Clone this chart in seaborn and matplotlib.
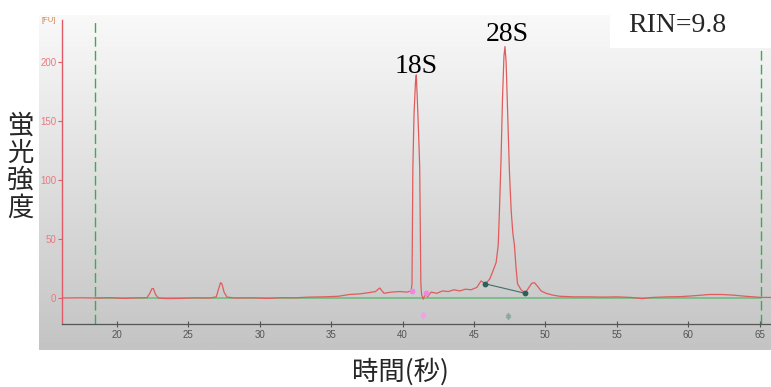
import numpy as np
import pandas as pd
import seaborn as sns
import matplotlib.pyplot as plt
from matplotlib.colors import LinearSegmentedColormap
from matplotlib.patches import Rectangle

# electropherogram trace (time in s, fluorescence in FU)
time_s = [16.2, 17.5, 18.5, 19.5, 20.5, 21.5, 22.1, 22.3, 22.45, 22.55,
          22.7, 22.9, 23.5, 24.5, 25.5, 26.5, 26.95, 27.1, 27.25, 27.35,
          27.5, 27.7, 28.3, 29.5, 30.5, 31.5, 32.5, 33.5, 34.5, 35.5,
          36.3, 37.0, 37.6, 38.1, 38.4, 38.7, 39.2, 39.8, 40.3, 40.6,
          40.66, 40.69, 40.72, 40.8, 40.9, 40.96, 41.02, 41.12, 41.2, 41.24,
          41.28, 41.33, 41.45, 41.6, 41.75, 42.0, 42.4, 42.8, 43.2, 43.6,
          44.0, 44.4, 44.8, 45.2, 45.5, 45.8, 46.1, 46.3, 46.55, 46.7,
          46.8, 46.9, 47.0, 47.1, 47.17, 47.25, 47.35, 47.48, 47.6, 47.72,
          47.83, 47.95, 48.05, 48.3, 48.58, 48.85, 49.05, 49.23, 49.45, 49.7,
          50.05, 50.5, 51.0, 52.0, 53.0, 54.0, 55.0, 56.0, 56.8, 57.5,
          58.5, 59.5, 60.5, 61.5, 62.3, 63.1, 64.0, 64.6, 65.1, 65.8]
fu = [0, 0.2, 0, 0.3, -0.3, 0.2, 0.3, 4, 8, 8,
      3, 0, -0.5, -0.3, 0.2, 0, 1, 7, 13, 12,
      5, 0.8, 0, 0.2, -0.3, 0.3, 0.2, 0.8, 1, 1.5,
      3, 3.5, 4.5, 5.5, 8.5, 4, 5, 5.5, 5, 6,
      12, 60, 110, 155, 182, 189, 172, 140, 110, 60,
      12, 3, -1, 4, 1, 5, 4, 6, 5.5, 7,
      6, 7.5, 7, 9, 14.5, 12, 16, 22, 30, 45,
      80, 120, 170, 205, 213, 200, 160, 108, 75, 55,
      45, 25, 12, 7, 4, 9, 12.5, 13, 10, 6,
      4, 2.5, 1.5, 1, 1, 0.8, 1, 0.5, -0.5, 0.5,
      1, 1.2, 2, 3, 3, 2.5, 1.5, 1, 0.5, 0.5]

window = [18.46, 65.1]          # green dashed markers
base_pts_t = [45.8, 48.58]      # 28S baseline anchors
base_pts_fu = [12, 4]
pink_t = [40.63, 41.66]
pink_fu = [6, 4.5]
peak_names = ["18S", "28S"]
peak_t = [40.96, 47.34]
peak_fu = [191, 218]
y_ticks = [0, 50, 100, 150, 200]
x_ticks = [20, 25, 30, 35, 40, 45, 50, 55, 60, 65]

trace = pd.DataFrame({"time": time_s, "fu": fu})

sns.set_style("white")
plt.rcParams["font.family"] = ["Liberation Sans", "DejaVu Sans"]
cjk = ["Noto Sans CJK JP", "DejaVu Sans"]

W, H = 771, 387
fig = plt.figure(figsize=(W / 100, H / 100), dpi=100)

# grey gradient panel
bg = fig.add_axes([39 / W, (H - 350) / H, (W - 39) / W, (350 - 15) / H], zorder=0)
cmap = LinearSegmentedColormap.from_list("panel", ["#f9f9f9", "#c4c4c4"])
bg.imshow(np.linspace(0, 1, 256).reshape(-1, 1), cmap=cmap, aspect="auto")
bg.axis("off")

ax = fig.add_axes([62 / W, (H - 324) / H, (W - 62) / W, (324 - 20) / H], zorder=1)
ax.set_facecolor("none")

for xv in window:
    ax.axvline(xv, color="#3aab52", lw=1.0, ls=(0, (7, 3)), zorder=2)
ax.plot(window, [0, 0], color="#78bd88", lw=1.3, zorder=2)

sns.lineplot(data=trace, x="time", y="fu", ax=ax, color="#e05c5c", lw=0.9,
             sort=False, estimator=None, zorder=3)

ax.plot(base_pts_t, base_pts_fu, color="#3f6f6a", lw=0.8, zorder=4)
ax.scatter(base_pts_t, base_pts_fu, s=10, color="#2f5f58", zorder=5)
ax.scatter(pink_t, pink_fu, s=10, color="#ee88dd", zorder=5)
ax.scatter([41.4], [-14.5], s=18, marker="$\u2021$", color="#f0a0e8", zorder=5)
ax.scatter([47.4], [-15], s=18, marker="$\u2021$", color="#88aaa0", zorder=5)

for name, t, v in zip(peak_names, peak_t, peak_fu):
    ax.text(t, v, name, ha="center", va="baseline", fontsize=20,
            family="Liberation Serif", color="black")

ax.set_xlim(16.15, 65.8)
ax.set_ylim(-22, 235.5)
ax.set_xticks(x_ticks)
ax.set_yticks(y_ticks)
ax.set_xlabel("")
ax.set_ylabel("")
for s in ["top", "right"]:
    ax.spines[s].set_visible(False)
ax.spines["left"].set_color("#e05a68")
ax.spines["left"].set_linewidth(1.0)
ax.spines["bottom"].set_color("#555555")
ax.spines["bottom"].set_linewidth(0.9)
ax.tick_params(axis="y", colors="#e05a68", labelcolor="#ea7a80", labelsize=7,
               length=3, width=0.8, pad=1, left=True)
ax.tick_params(axis="x", colors="#555555", labelcolor="#555555", labelsize=7,
               direction="inout", length=4, width=0.8, pad=2, bottom=True)

fig.text(49 / W, 1 - 20 / H, "[FU]", fontsize=5.5, color="#d08a50",
         ha="center", va="center", zorder=4)

# RIN box
fig.patches.append(Rectangle((610 / W, 1 - 48 / H), (W - 610) / W, 48 / H,
                             transform=fig.transFigure, facecolor="white",
                             edgecolor="none", zorder=5))
fig.text(677 / W, 1 - 26 / H, "RIN=9.8", fontsize=20, family="Liberation Serif",
         ha="center", va="center", zorder=6)

fig.text(20 / W, 1 - 167 / H, "蛍\n光\n強\n度", fontsize=19, family=cjk,
         ha="center", va="center", linespacing=1.02)
fig.text(400 / W, 1 - 372 / H, "時間(秒)", fontsize=19, family=cjk,
         ha="center", va="center")

fig.savefig("out.png", dpi=100)
plt.close(fig)
